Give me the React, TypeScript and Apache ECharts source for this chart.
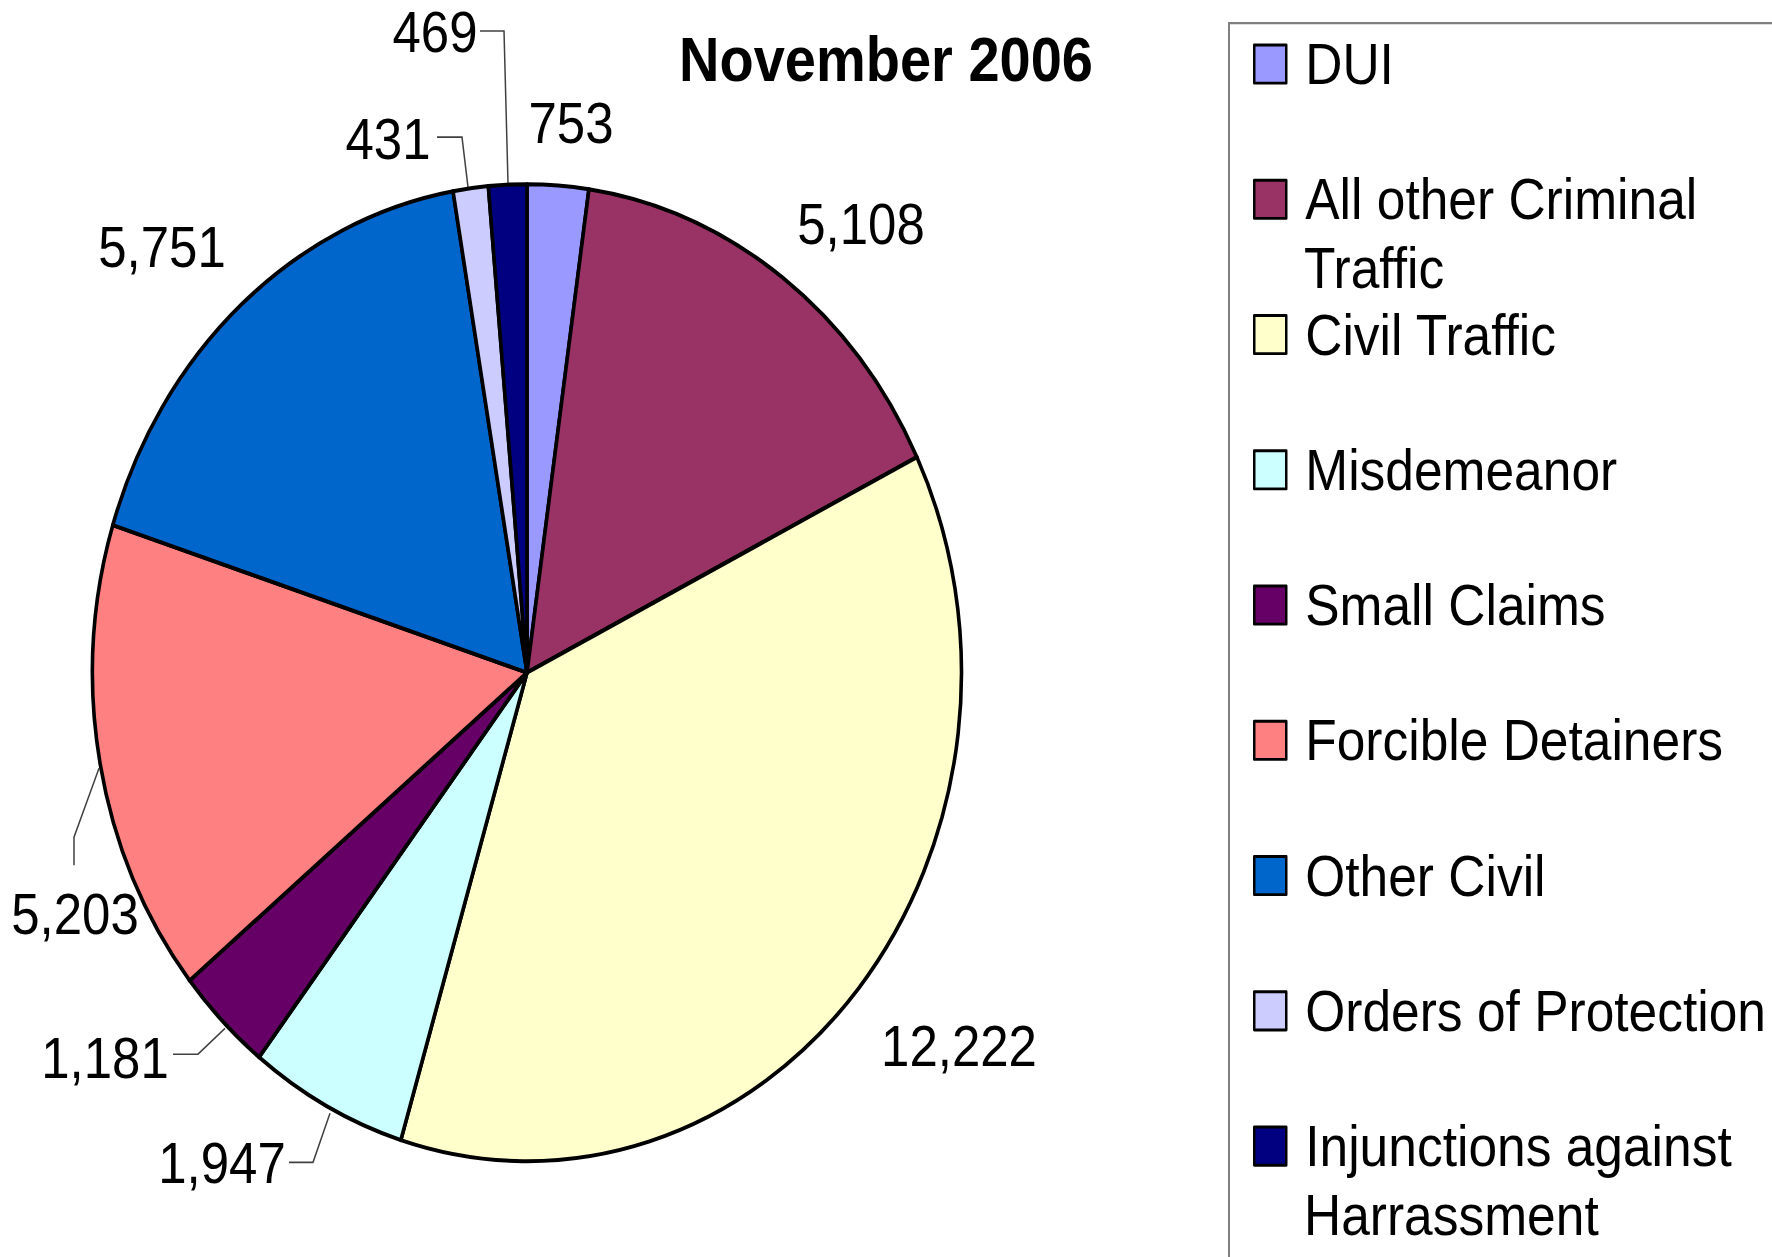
import React, { useEffect, useRef } from 'react';
import * as echarts from 'echarts';

// ---- data ----
const categories = [
  'DUI',
  'All other Criminal Traffic',
  'Civil Traffic',
  'Misdemeanor',
  'Small Claims',
  'Forcible Detainers',
  'Other Civil',
  'Orders of Protection',
  'Injunctions against Harrassment',
];
const filings = [753, 5108, 12222, 1947, 1181, 5203, 5751, 431, 469];
const legendFirstLines = [
  'DUI',
  'All other Criminal',
  'Civil Traffic',
  'Misdemeanor',
  'Small Claims',
  'Forcible Detainers',
  'Other Civil',
  'Orders of Protection',
  'Injunctions against',
];
const legendSecondLines = ['', 'Traffic', '', '', '', '', '', '', 'Harrassment'];
const titleText = 'November 2006';

// ---- styles / layout ----
const colors = ['#9999FF', '#993366', '#FFFFCC', '#CCFFFF', '#660066', '#FF8080', '#0066CC', '#CCCCFF', '#000080'];
const FONT = '"Liberation Sans", Arial, sans-serif';
const STRETCH = 1.1243;
const W = 1772;
const H = 1118;
const labelCenters: number[][] = [
  [571, 109.4],
  [861, 199.3],
  [959, 930.6],
  [222, 1034.7],
  [105, 941.3],
  [75, 813.2],
  [162, 219.8],
  [388, 123.7],
  [435, 28.5],
];
const leaderLines: (number[][] | null)[] = [
  null,
  null,
  null,
  [[330, 990.2], [313, 1033.8], [289, 1033.8]],
  [[225, 914.6], [198, 937.7], [173, 937.7]],
  [[99, 683.3], [74, 744.7], [74, 769.6]],
  null,
  [[468, 166.4], [462, 121.9], [437, 121.9]],
  [[508, 162.8], [504, 27.6], [480, 27.6]],
];
const LEGEND_FIRST_CENTER = 57;
const LEGEND_PITCH = 120.3;
const LEGEND_LINE_GAP = 61.4;
const LEGEND_TEXT_X = 1304;

export default function App() {
  const ref = useRef<HTMLDivElement>(null);

  useEffect(() => {
    if (!ref.current) return;
    const chart = echarts.init(ref.current, null, { renderer: 'svg' });

    const data = categories.map((name, i) => ({
      name,
      value: filings[i],
      itemStyle: { color: colors[i] },
      labelLine: { show: leaderLines[i] !== null },
    }));

    const extraLegendTexts = legendSecondLines
      .map((t, i) => ({ t, i }))
      .filter((o) => o.t)
      .map((o) => ({
        type: 'text',
        x: LEGEND_TEXT_X,
        y: LEGEND_FIRST_CENTER + LEGEND_PITCH * o.i + LEGEND_LINE_GAP,
        style: {
          text: o.t,
          fill: '#000',
          font: `51.5px ${FONT}`,
          textAlign: 'left',
          textVerticalAlign: 'middle',
        },
      }));

    chart.setOption({
      animation: false,
      backgroundColor: '#fff',
      title: {
        text: titleText,
        left: 'center',
        top: 24.5,
        padding: 0,
        textStyle: { fontSize: 56, fontWeight: 'bold', fontFamily: FONT, color: '#000', lineHeight: 56 },
      },
      legend: {
        orient: 'vertical',
        left: 1253,
        top: 27,
        padding: 0,
        itemGap: 60.3,
        itemWidth: 32,
        itemHeight: 34,
        icon: 'rect',
        selectedMode: false,
        itemStyle: { borderColor: '#000', borderWidth: 2.5 },
        formatter: (name: string) => legendFirstLines[categories.indexOf(name)],
        textStyle: { fontSize: 51.5, fontFamily: FONT, color: '#000', lineHeight: 60, padding: [0, 0, 0, 14] },
        data: categories,
      },
      graphic: [
        {
          type: 'rect',
          shape: { x: 1229, y: 20.5, width: 700, height: 1300 },
          style: { fill: 'none', stroke: '#808080', lineWidth: 2 },
          silent: true,
        },
        ...extraLegendTexts,
      ],
      series: [
        {
          type: 'pie',
          center: [527, 598.3],
          radius: 434.5,
          startAngle: 90,
          clockwise: true,
          avoidLabelOverlap: false,
          silent: true,
          emphasis: { disabled: true },
          itemStyle: { borderColor: '#000', borderWidth: 3.6 },
          label: {
            show: true,
            position: 'outside',
            fontSize: 51,
            fontFamily: FONT,
            color: '#000',
            formatter: (p: any) => Number(p.value).toLocaleString('en-US'),
          },
          labelLine: {
            show: true,
            lineStyle: { color: '#404040', width: 1.5 },
          },
          labelLayout: (params: any) => {
            const i = params.dataIndex;
            const c = labelCenters[i];
            const out: any = { x: c[0], y: c[1], align: 'center', verticalAlign: 'middle' };
            if (leaderLines[i]) out.labelLinePoints = leaderLines[i];
            return out;
          },
          data,
        },
      ],
    });

    return () => chart.dispose();
  }, []);

  return (
    <div
      style={{
        position: 'absolute',
        left: 0,
        top: 0,
        width: W,
        height: H,
        transform: `scaleY(${STRETCH})`,
        transformOrigin: '0 0',
      }}
    >
      <div ref={ref} style={{ width: W, height: H }} />
    </div>
  );
}
